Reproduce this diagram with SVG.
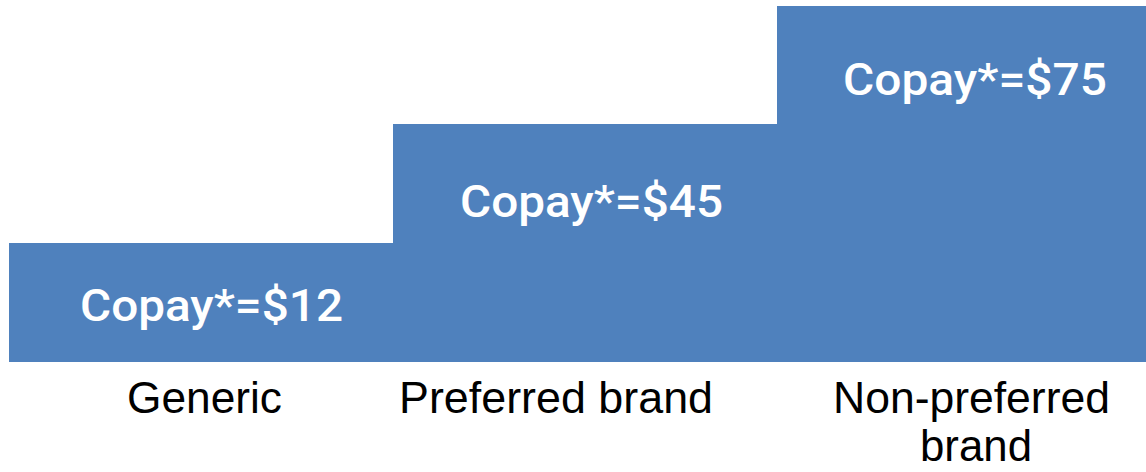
<svg xmlns="http://www.w3.org/2000/svg" width="1146" height="472" viewBox="0 0 1146 472">
<style>
.step{fill:#4F81BD;}
.cp{font-family:Roboto,"Liberation Sans",Arial,sans-serif;font-weight:500;font-size:44px;fill:#FFFFFF;}
.lb{font-family:"Liberation Sans",Arial,sans-serif;font-size:44px;fill:#000000;}
</style>
<rect width="1146" height="472" fill="#FFFFFF"/>
<g id="generic">
<rect class="step" x="9" y="243" width="385" height="119"/>
<text class="cp" x="80" y="321" textLength="263" lengthAdjust="spacingAndGlyphs">Copay*=$12</text>
<text class="lb" x="127" y="413" textLength="155" lengthAdjust="spacingAndGlyphs">Generic</text>
</g>
<g id="preferred">
<rect class="step" x="393" y="124" width="385" height="238"/>
<text class="cp" x="460" y="217" textLength="263" lengthAdjust="spacingAndGlyphs">Copay*=$45</text>
<text class="lb" x="399" y="413" textLength="314" lengthAdjust="spacingAndGlyphs">Preferred brand</text>
</g>
<g id="nonpreferred">
<rect class="step" x="777" y="6" width="369" height="356"/>
<text class="cp" x="843" y="95" textLength="264" lengthAdjust="spacingAndGlyphs">Copay*=$75</text>
<text class="lb" x="833" y="413" textLength="277" lengthAdjust="spacingAndGlyphs">Non-preferred</text>
<text class="lb" x="920" y="461" textLength="112" lengthAdjust="spacingAndGlyphs">brand</text>
</g>
<g id="connectors"></g>
</svg>
